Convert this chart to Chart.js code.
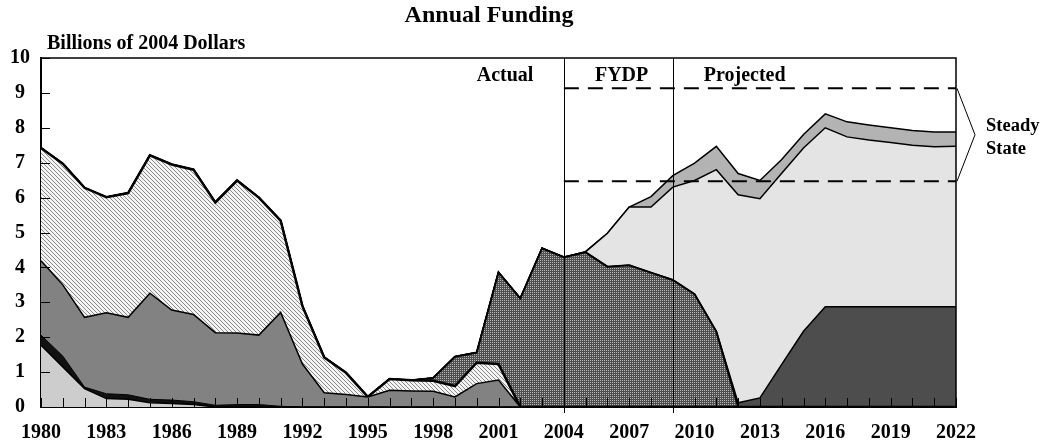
<!DOCTYPE html>
<html>
<head>
<meta charset="utf-8">
<title>Annual Funding</title>
<script src="https://cdn.jsdelivr.net/npm/chart.js@4/dist/chart.umd.min.js"></script>
<style>
    body { margin: 0; background: #fff; }
    #wrap { width: 1049px; height: 446px; }
</style>
</head>
<body>
<div id="wrap"><canvas id="fundingChart" width="1049" height="446"></canvas></div>
<script>
'use strict';

var years = [];
for (var y = 1980; y <= 2022; y++) {
    years.push(String(y));
}

// layers, bottom to top (billions of 2004 dollars, stacked thickness)
var lightBase = [1.77, 1.15, 0.53, 0.24, 0.22, 0.12, 0.10, 0.07, 0, 0, 0, 0, 0, 0, 0, 0, 0, 0, 0, 0, 0, 0,
    0, 0, 0, 0, 0, 0, 0, 0, 0, 0, 0, 0, 0, 0, 0, 0, 0, 0, 0, 0, 0];
var blackBand = [0.29, 0.31, 0.04, 0.14, 0.13, 0.10, 0.10, 0.08, 0.05, 0.07, 0.07, 0.02, 0, 0, 0, 0, 0, 0, 0, 0, 0, 0,
    0, 0, 0, 0, 0, 0, 0, 0, 0, 0, 0, 0, 0, 0, 0, 0, 0, 0, 0, 0, 0];
var grayBand = [2.13, 2.04, 2.00, 2.32, 2.22, 3.04, 2.58, 2.50, 2.08, 2.05, 1.99, 2.69, 1.23, 0.41, 0.36, 0.29,
    0.48, 0.46, 0.45, 0.29, 0.67, 0.77, 0, 0, 0, 0, 0, 0, 0, 0, 0, 0, 0, 0, 0, 0, 0, 0, 0, 0, 0, 0, 0];
var hatchedBand = [3.23, 3.47, 3.71, 3.31, 3.56, 3.95, 4.17, 4.15, 3.73, 4.37, 3.94, 2.63, 1.66, 1.01, 0.62, 0,
    0.32, 0.31, 0.30, 0.31, 0.60, 0.46, 0, 0, 0, 0, 0, 0, 0, 0, 0, 0, 0, 0, 0, 0, 0, 0, 0, 0, 0, 0, 0];
var dottedBand = [0, 0, 0, 0, 0, 0, 0, 0, 0, 0, 0, 0, 0, 0, 0, 0, 0, 0, 0.08, 0.84, 0.29, 2.63, 3.11, 4.55,
    4.29, 4.43, 4.02, 4.06, 3.85, 3.64, 3.23, 2.16, 0, 0, 0, 0, 0, 0, 0, 0, 0, 0, 0];
var darkBand = [0, 0, 0, 0, 0, 0, 0, 0, 0, 0, 0, 0, 0, 0, 0, 0, 0, 0, 0, 0, 0, 0, 0, 0,
    0, 0, 0, 0, 0, 0, 0, 0, 0.12, 0.26, 1.22, 2.17, 2.87, 2.87, 2.87, 2.87, 2.87, 2.87, 2.87];
var lightBand = [0, 0, 0, 0, 0, 0, 0, 0, 0, 0, 0, 0, 0, 0, 0, 0, 0, 0, 0, 0, 0, 0, 0, 0,
    0, 0.02, 0.96, 1.67, 1.88, 2.66, 3.26, 4.64, 5.96, 5.71, 5.48, 5.25, 5.13, 4.87, 4.78, 4.71, 4.63, 4.59, 4.60];
var topBand = [0, 0, 0, 0, 0, 0, 0, 0, 0, 0, 0, 0, 0, 0, 0, 0, 0, 0, 0, 0, 0, 0, 0, 0,
    0, 0, 0, 0, 0.30, 0.33, 0.50, 0.67, 0.61, 0.52, 0.39, 0.39, 0.40, 0.43, 0.43, 0.42, 0.42, 0.42, 0.41];

var yTicks = [0, 1, 2, 3, 4, 5, 6, 7, 8, 9, 10];
var periodLines = ['2004', '2009'];
var periodLabels = [
    { text: 'Actual', x: 2001.3 },
    { text: 'FYDP', x: 2006.65 },
    { text: 'Projected', x: 2012.3 }
];
var steadyHigh = 9.13;
var steadyLow = 6.47;

var serif = '"Liberation Serif", "Times New Roman", serif';

function makeHatch() {
    var c = document.createElement('canvas');
    c.width = 4;
    c.height = 4;
    var g = c.getContext('2d');
    g.fillStyle = '#f4f4f4';
    g.fillRect(0, 0, 4, 4);
    g.fillStyle = '#8a8a8a';
    for (var i = 0; i < 4; i++) {
        g.fillRect(i, i, 1, 1);
    }
    return g.createPattern(c, 'repeat');
}

function makeDots() {
    var c = document.createElement('canvas');
    c.width = 2;
    c.height = 2;
    var g = c.getContext('2d');
    g.fillStyle = '#4e4e4e';
    g.fillRect(0, 0, 2, 2);
    g.fillStyle = '#b8b8b8';
    g.fillRect(0, 0, 1, 1);
    return g.createPattern(c, 'repeat');
}

function layer(data, color, width, first) {
    return {
        data: data,
        fill: first ? 'origin' : '-1',
        backgroundColor: color,
        borderColor: '#000',
        borderWidth: width,
        pointRadius: 0,
        tension: 0
    };
}

var overlay = {
    id: 'overlay',
    afterDatasetsDraw: function (chart) {
        var ctx = chart.ctx;
        var xs = chart.scales.x;
        var ys = chart.scales.y;
        var a = chart.chartArea;
        var step = xs.getPixelForValue(1) - xs.getPixelForValue(0);

        ctx.save();
        ctx.strokeStyle = '#000';
        ctx.fillStyle = '#000';

        // inward ticks
        ctx.lineWidth = 1;
        ctx.beginPath();
        for (var i = 0; i < years.length; i++) {
            var px = Math.round(xs.getPixelForValue(i)) + 0.5;
            ctx.moveTo(px, a.bottom);
            ctx.lineTo(px, a.bottom - 9);
        }
        for (var j = 0; j < yTicks.length; j++) {
            var py = Math.round(ys.getPixelForValue(yTicks[j])) + 0.5;
            ctx.moveTo(a.left, py);
            ctx.lineTo(a.left + 9, py);
        }
        ctx.stroke();

        // frame top / right
        ctx.lineWidth = 1.5;
        ctx.beginPath();
        ctx.moveTo(a.left, a.top);
        ctx.lineTo(a.right, a.top);
        ctx.lineTo(a.right, a.bottom);
        ctx.stroke();

        // period separators
        ctx.lineWidth = 1;
        ctx.beginPath();
        for (var k = 0; k < periodLines.length; k++) {
            var lx = Math.round(xs.getPixelForValue(years.indexOf(periodLines[k]))) + 0.5;
            ctx.moveTo(lx, a.top);
            ctx.lineTo(lx, a.bottom + 6);
        }
        ctx.stroke();

        // steady state dashed lines
        var x0 = xs.getPixelForValue(years.indexOf('2004'));
        var yHigh = ys.getPixelForValue(steadyHigh);
        var yLow = ys.getPixelForValue(steadyLow);
        ctx.lineWidth = 2;
        ctx.setLineDash([15, 9]);
        ctx.beginPath();
        ctx.moveTo(x0, yHigh);
        ctx.lineTo(a.right, yHigh);
        ctx.moveTo(x0, yLow);
        ctx.lineTo(a.right, yLow);
        ctx.stroke();
        ctx.setLineDash([]);

        // bracket
        ctx.lineWidth = 1;
        ctx.beginPath();
        ctx.moveTo(a.right + 1, yHigh);
        ctx.lineTo(a.right + 19, (yHigh + yLow) / 2);
        ctx.lineTo(a.right + 1, yLow);
        ctx.stroke();

        ctx.font = 'bold 18.5px ' + serif;
        ctx.textBaseline = 'alphabetic';
        ctx.textAlign = 'left';
        ctx.fillText('Steady', a.right + 30, 131);
        ctx.fillText('State', a.right + 30, 154);

        // period labels
        ctx.font = 'bold 20px ' + serif;
        ctx.textAlign = 'center';
        for (var m = 0; m < periodLabels.length; m++) {
            var lbl = periodLabels[m];
            var cx = xs.getPixelForValue(0) + (lbl.x - 1980) * step;
            ctx.fillText(lbl.text, cx, 81);
        }

        // titles
        ctx.font = 'bold 24px ' + serif;
        ctx.fillText('Annual Funding', 489, 22);
        ctx.font = 'bold 20px ' + serif;
        ctx.textAlign = 'left';
        ctx.fillText('Billions of 2004 Dollars', 47, 49);

        ctx.restore();
    }
};

var hatch = makeHatch();
var dots = makeDots();

var ctx = document.getElementById('fundingChart').getContext('2d');
var chart = new Chart(ctx, {
    type: 'line',
    data: {
        labels: years,
        datasets: [
            layer(lightBase, '#cdcdcd', 1.5, true),
            layer(blackBand, '#111111', 1, false),
            layer(grayBand, '#828282', 1.5, false),
            layer(hatchedBand, hatch, 2.5, false),
            layer(dottedBand, dots, 2, false),
            layer(darkBand, '#4d4d4d', 1.5, false),
            layer(lightBand, '#e4e4e4', 1.5, false),
            layer(topBand, '#b3b3b3', 1.5, false)
        ]
    },
    options: {
        responsive: false,
        animation: false,
        layout: { padding: { left: 0, right: 93, top: 58, bottom: 0 } },
        plugins: {
            legend: { display: false },
            tooltip: { enabled: false },
            title: { display: false }
        },
        scales: {
            x: {
                stacked: true,
                offset: false,
                grid: { display: false, drawTicks: false },
                border: { display: true, color: '#000', width: 2 },
                afterFit: function (scale) { scale.height = 39; },
                ticks: {
                    autoSkip: false,
                    maxRotation: 0,
                    padding: 14,
                    color: '#000',
                    font: { family: serif, size: 20, weight: 'bold' },
                    callback: function (value, index) {
                        return index % 3 === 0 ? years[index] : '';
                    }
                }
            },
            y: {
                stacked: true,
                min: 0,
                max: 10,
                grid: { display: false, drawTicks: false },
                border: { display: true, color: '#000', width: 2 },
                afterFit: function (scale) { scale.width = 41; },
                ticks: {
                    stepSize: 1,
                    padding: 11,
                    crossAlign: 'center',
                    color: '#000',
                    font: { family: serif, size: 20, weight: 'bold' }
                }
            }
        }
    },
    plugins: [overlay]
});
</script>
</body>
</html>
